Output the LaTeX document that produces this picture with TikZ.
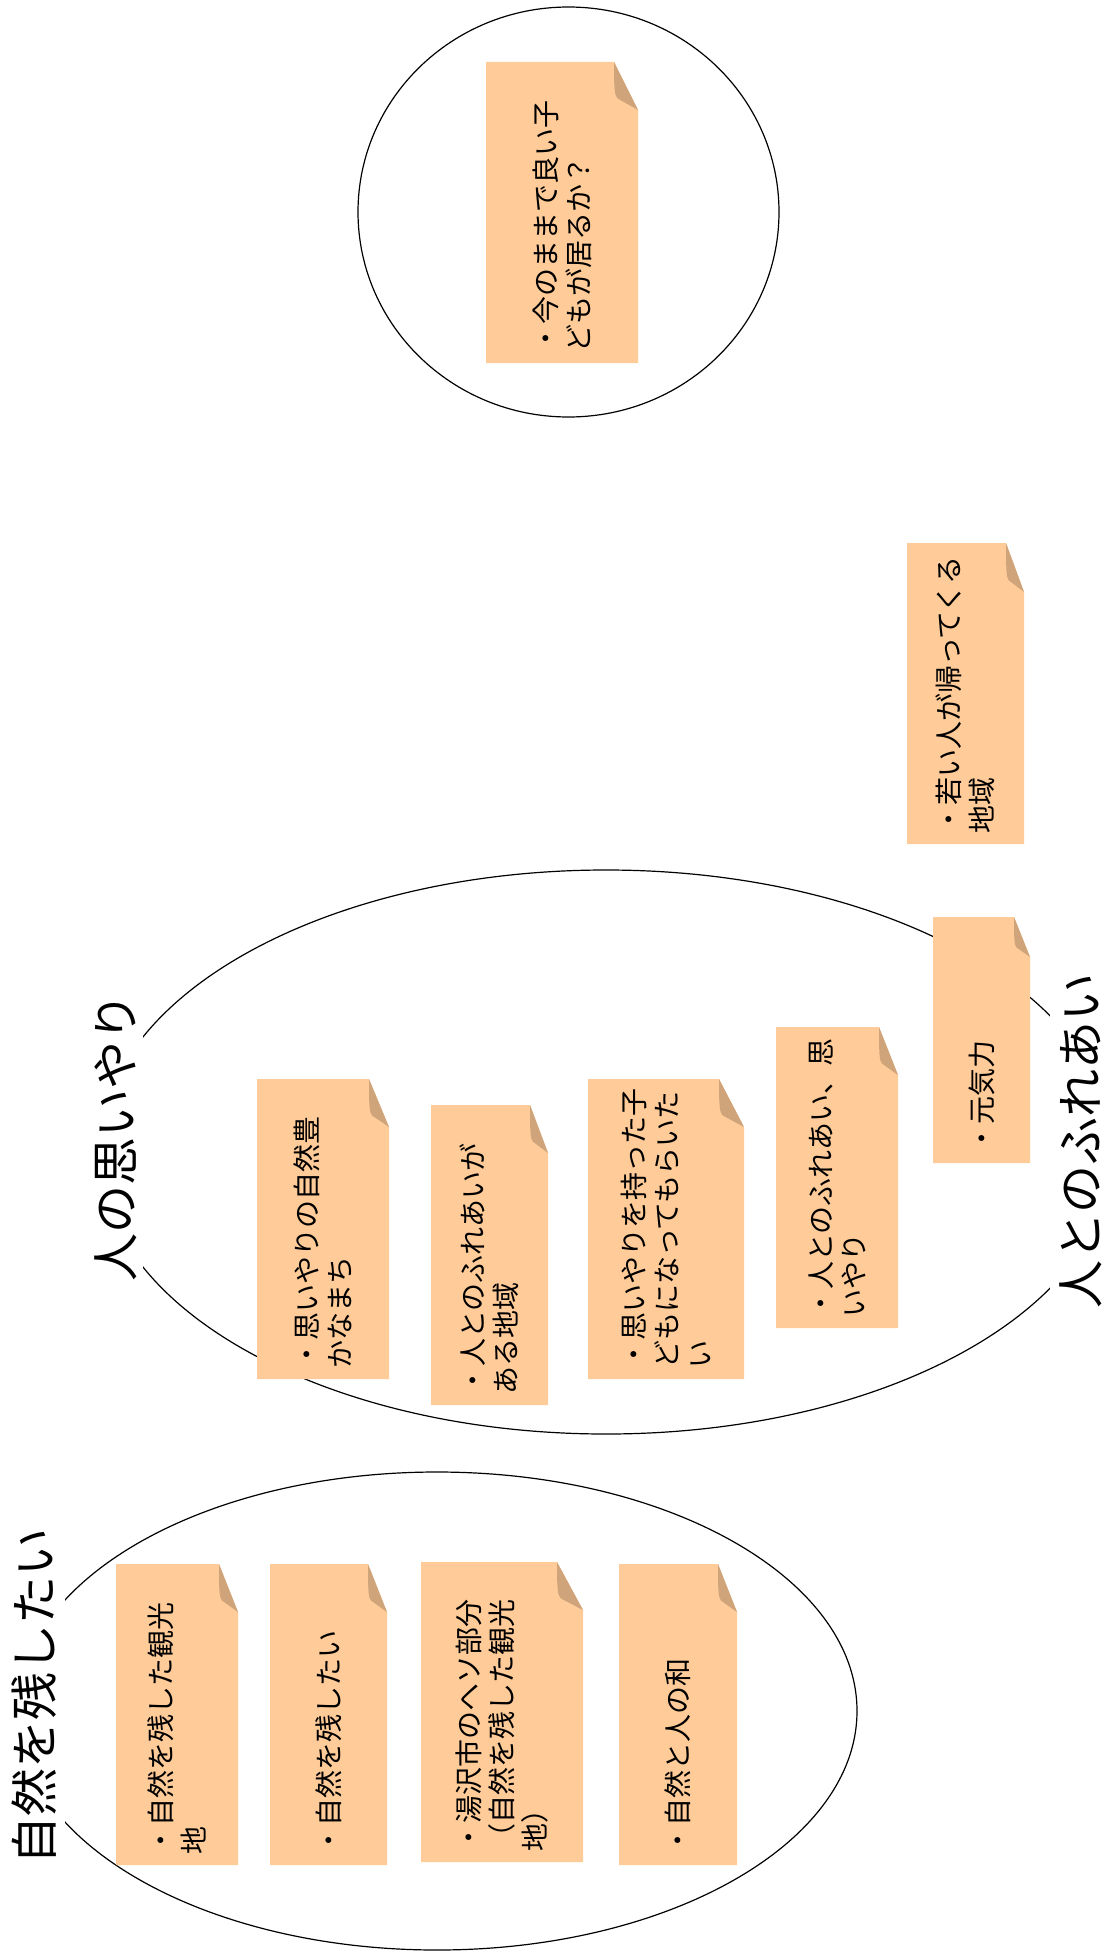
\documentclass[tikz,border=0pt]{standalone}
\usepackage{fontspec}
\setmainfont{Noto Sans CJK JP}
\definecolor{notefill}{HTML}{FFCC99}
\definecolor{foldfill}{HTML}{CFA47A}
\newcommand\postit[8]{%
  \fill[notefill] (#2,#4) -- ({#3-#6},#4) -- (#3,{#4+#7}) -- (#3,#5) -- (#2,#5) -- cycle;
  \fill[foldfill] ({#3-#6},#4) .. controls ({#3-#6},{#4+0.55*#7}) and ({#3-#6+0.02*#6},{#4+0.7*#7}) .. ({#3-#6+0.15*#6},{#4+0.76*#7}) -- (#3,{#4+#7}) -- cycle;
  \node[notetext] (#1) at ({(#2+#3)/2},{#5-10}) {#8};
}
\begin{document}
\begin{tikzpicture}[x=1pt,y=-1pt,
  outline/.style={draw=black, line width=1.2pt},
  notetext/.style={rotate=90, anchor=west, align=left, inner sep=0pt, font=\fontsize{28}{33}\selectfont},
  grouplabel/.style={rotate=90, fill=white, inner sep=0pt, font=\fontsize{48}{58}\selectfont}]
\useasboundingbox (0,0) rectangle (1106,1959);

% group outlines
\draw[outline] (568.5,212) ellipse [x radius=210.5pt, y radius=205pt];
\draw[outline] (606,1152) ellipse [x radius=507pt, y radius=282pt];
\draw[outline] (437,1711) ellipse [x radius=420pt, y radius=239pt];

% group labels
\node[grouplabel, minimum height=55pt] (lblKind) at (115.5,1137.5) {人の思いやり};
\node[grouplabel, minimum height=62pt] (lblFure) at (1081,1141) {人とのふれあい};
\node[grouplabel, minimum height=62pt] (lblShizen) at (34,1696) {自然を残したい};

% notes
\postit{nA}{486}{638}{62}{363}{24}{48}{・今のままで良い子\\どもが居るか？}
\postit{nB}{907}{1024}{543}{844}{18}{49}{・若い人が帰ってくる\\地域}
\postit{nC}{933}{1030}{917}{1163}{16}{40}{・元気力}
\postit{nM1}{257}{389}{1079}{1379}{20}{48}{・思いやりの自然豊\\かなまち}
\postit{nM2}{431}{548}{1105}{1405}{18}{48}{・人とのふれあいが\\ある地域}
\postit{nM3}{588}{744}{1079}{1379}{25}{48}{・思いやりを持った子\\どもになってもらいた\\い}
\postit{nM4}{776}{898}{1027}{1328}{19}{48}{・人とのふれあい、思\\いやり}
\postit{nD1}{116}{238}{1564}{1865}{19}{48}{・自然を残した観光\\地}
\postit{nD2}{270}{387}{1564}{1865}{19}{48}{・自然を残したい}
\postit{nD3}{421}{583}{1562}{1862}{26}{48}{・湯沢市のヘソ部分\\（自然を残した観光\\地）}
\postit{nD4}{619}{737}{1564}{1865}{19}{48}{・自然と人の和}
\end{tikzpicture}
\end{document}
